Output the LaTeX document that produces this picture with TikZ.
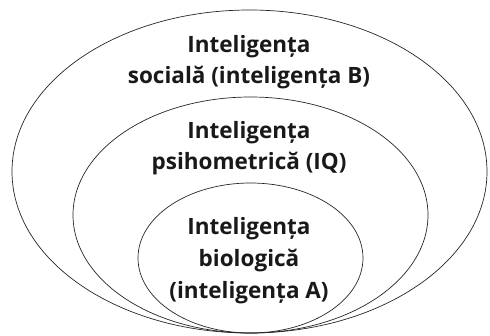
\documentclass[tikz,border=0pt]{standalone}
\usepackage{fontspec}
\setmainfont{Open Sans}
\usetikzlibrary{shapes.geometric}
\begin{document}
\begin{tikzpicture}[x=1pt,y=1pt,
  ring/.style={draw=black!85,line width=0.7pt,ellipse,inner sep=0pt},
  lbl/.style={align=center,font=\fontsize{22.5}{31}\selectfont\bfseries,text=black!90}]
\useasboundingbox (0,0) rectangle (490,-335);
\node[ring,minimum width=475pt,minimum height=323pt] (outer) at (249.5,-171.5) {};
\node[ring,minimum width=355pt,minimum height=236pt] (middle) at (250.5,-215) {};
\node[ring,minimum width=225pt,minimum height=150pt] (inner) at (250.5,-258) {};
\node[lbl] (tout) at (249,-62) {Inteligența\\socială (inteligența B)};
\node[lbl] (tmid) at (249,-148) {Inteligența\\psihometrică (IQ)};
\node[lbl,font=\fontsize{22.5}{32}\selectfont\bfseries] (tin) at (249,-261) {Inteligența\\biologică\\(inteligența A)};
\end{tikzpicture}
\end{document}
